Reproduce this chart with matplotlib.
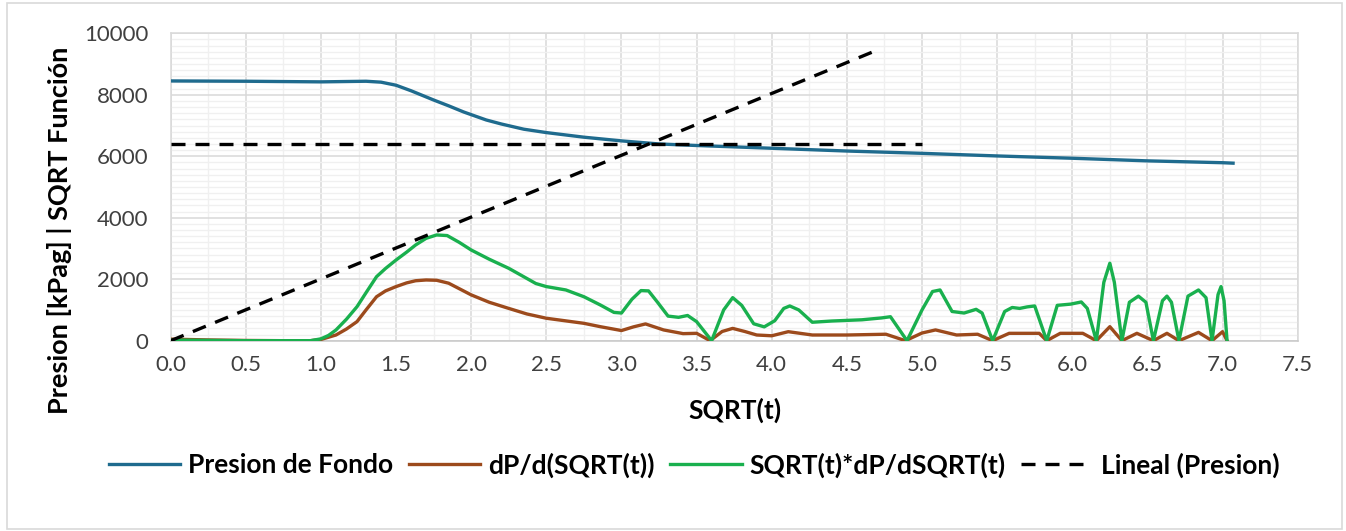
#!/usr/bin/env python3
"""
Square-root-of-time plot: bottomhole pressure, its derivative and the
SQRT(t)*dP/dSQRT(t) function, with the linear trend lines.
"""
import matplotlib.pyplot as plt
from matplotlib.patches import Rectangle
from matplotlib.ticker import MultipleLocator

# Bottomhole pressure [kPag] vs SQRT(t)
presion_x = [0.0, 0.5, 1.0, 1.3, 1.4, 1.5, 1.6, 1.75, 1.85, 1.95, 2.1, 2.2, 2.35,
             2.5, 2.6, 2.75, 3.0, 3.25, 3.5, 4.0, 4.5, 5.0, 5.5, 6.0, 6.5, 7.0, 7.07]
presion_y = [8450, 8440, 8420, 8440, 8410, 8310, 8130, 7830, 7640, 7440, 7180, 7050, 6880,
             6770, 6710, 6620, 6500, 6400, 6350, 6260, 6170, 6095, 6010, 5935, 5850, 5790, 5775]

# dP/d(SQRT(t))
deriv_x = [0.0, 0.25, 0.5, 0.75, 0.93, 1.0, 1.1, 1.17, 1.24, 1.3, 1.37, 1.43, 1.5, 1.57,
           1.63, 1.7, 1.77, 1.85, 2.0, 2.12, 2.25, 2.37, 2.5, 2.75, 2.86, 3.0, 3.08, 3.16,
           3.28, 3.41, 3.5, 3.59, 3.67, 3.74, 3.82, 3.9, 4.0, 4.11, 4.27, 4.5, 4.76,
           4.89, 5.0, 5.09, 5.23, 5.37, 5.47, 5.58, 5.78, 5.83, 5.92, 6.07, 6.16, 6.25,
           6.33, 6.43, 6.54, 6.63, 6.71, 6.84, 6.93, 7.0, 7.03]
deriv_y = [50, 25, 8, 0, 0, 40, 185, 380, 620, 1000, 1430, 1620, 1760, 1880,
           1950, 1975, 1965, 1870, 1490, 1250, 1050, 870, 730, 565, 455, 330, 450, 545,
           350, 230, 240, 0, 300, 400, 300, 185, 160, 293, 185, 185, 210,
           0, 250, 350, 185, 210, 0, 240, 240, 0, 240, 240, 0, 456,
           0, 240, 0, 240, 0, 270, 0, 293, 0]

# SQRT(t)*dP/dSQRT(t)
func_x = [0.0, 0.5, 0.93, 1.0, 1.05, 1.1, 1.17, 1.24, 1.3, 1.37, 1.43, 1.5, 1.57, 1.63,
          1.7, 1.77, 1.84, 1.92, 2.0, 2.12, 2.25, 2.35, 2.43, 2.5, 2.63, 2.75, 2.86, 2.95,
          3.0, 3.07, 3.13, 3.18, 3.24, 3.31, 3.38, 3.44, 3.5, 3.6, 3.68, 3.74, 3.8, 3.88,
          3.95, 4.02, 4.08, 4.12, 4.18, 4.27, 4.4, 4.6, 4.73, 4.79, 4.9, 5.0, 5.07,
          5.12, 5.2, 5.28, 5.36, 5.4, 5.47, 5.55, 5.6, 5.65, 5.7, 5.75, 5.83, 5.9,
          5.99, 6.06, 6.1, 6.16, 6.21, 6.25, 6.28, 6.33, 6.38, 6.44, 6.49, 6.54, 6.6,
          6.63, 6.66, 6.71, 6.77, 6.84, 6.89, 6.93, 6.97, 6.99, 7.01, 7.03]
func_y = [20, 0, 0, 60, 170, 348, 700, 1106, 1560, 2082, 2350, 2625, 2880, 3113,
          3330, 3440, 3420, 3200, 2950, 2650, 2354, 2080, 1860, 1760, 1650, 1430, 1160, 920,
          900, 1350, 1630, 1620, 1250, 800, 760, 820, 620, 0, 1000, 1400, 1150, 550,
          450, 650, 1050, 1130, 1000, 600, 640, 680, 740, 780, 0, 1000, 1600,
          1650, 950, 900, 1020, 900, 0, 950, 1080, 1050, 1100, 1130, 0, 1150,
          1190, 1260, 1050, 0, 1900, 2520, 1900, 0, 1250, 1450, 1250, 0, 1300,
          1450, 1250, 0, 1450, 1650, 1400, 0, 1500, 1760, 1300, 0]

# Linear trend lines
lineal_x = [0.0, 4.67]
lineal_y = [0, 9390]
nivel_x = [0.0, 5.0]
nivel_y = [6400, 6400]

FONT = ["Lato", "DejaVu Sans"]
plt.rcParams["font.family"] = FONT

fig = plt.figure(figsize=(13.46, 5.31), dpi=100)
ax = fig.add_axes([0.1268, 0.3584, 0.8373, 0.5789])

ax.plot(presion_x, presion_y, color="#1f6b8e", lw=2.4, label="Presion de Fondo", zorder=4)
ax.plot(deriv_x, deriv_y, color="#9c4a1c", lw=2.4, label="dP/d(SQRT(t))", zorder=4)
ax.plot(func_x, func_y, color="#19b04e", lw=2.4, label="SQRT(t)*dP/dSQRT(t)", zorder=5)
ax.plot(lineal_x, lineal_y, color="black", lw=2.4, ls=(0, (4.2, 3.0)),
        label="Lineal (Presion)", zorder=6)
ax.plot(nivel_x, nivel_y, color="black", lw=2.4, ls=(0, (4.2, 3.0)), zorder=6)

ax.set_xlim(0, 7.5)
ax.set_ylim(0, 10000)
ax.xaxis.set_major_locator(MultipleLocator(0.5))
ax.xaxis.set_minor_locator(MultipleLocator(0.25))
ax.yaxis.set_major_locator(MultipleLocator(2000))
ax.yaxis.set_minor_locator(MultipleLocator(200))
ax.xaxis.set_major_formatter(plt.FormatStrFormatter("%.1f"))

ax.grid(which="major", color="#d9d9d9", lw=1.1)
ax.grid(which="minor", color="#f0f0f0", lw=1.0)
ax.set_axisbelow(True)
for s in ax.spines.values():
    s.set_color("#d9d9d9")
    s.set_linewidth(1.1)
ax.spines["bottom"].set_color("#c8c8c8")

ax.tick_params(which="both", length=0)
ax.tick_params(axis="x", labelsize=16, pad=10, colors="#404040")
ax.tick_params(axis="y", labelsize=16, pad=16, colors="#404040")

fig.text(735 / 1346, 1 - 410 / 531, "SQRT(t)", ha="center", va="center",
         fontsize=19, fontweight="bold")
fig.text(60 / 1346, 1 - 230 / 531, "Presion [kPag] | SQRT Función", ha="center",
         va="center", rotation=90, fontsize=19.5, fontweight="bold")

leg = fig.legend(loc="center", bbox_to_anchor=(694 / 1346, 1 - 465 / 531), ncol=4,
                 frameon=False, prop={"family": FONT, "weight": "bold", "size": 19},
                 handlelength=2.7, handletextpad=0.3, columnspacing=0.6)

# chart area border
fig.patches.append(Rectangle((7 / 1346, 2 / 531), 1335 / 1346, 526 / 531,
                             transform=fig.transFigure, fill=False,
                             edgecolor="#d9d9d9", lw=1.2))

fig.savefig("out.png", dpi=100)
